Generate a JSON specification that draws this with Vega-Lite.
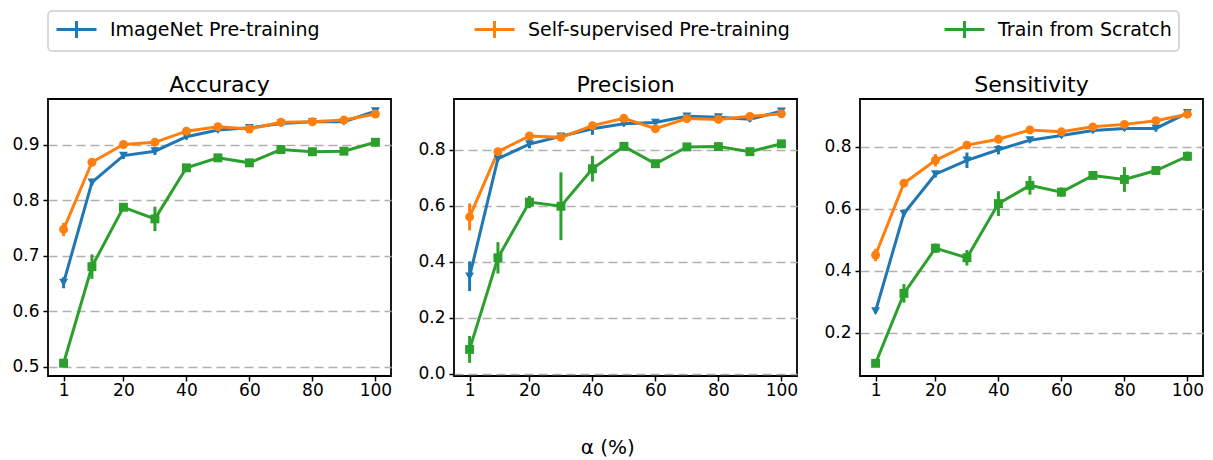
{
  "$schema": "https://vega.github.io/schema/vega-lite/v6.json",
  "padding": {"left": 11, "top": 10, "right": 4, "bottom": 0},
  "background": "white",
  "datasets": {
    "d": [
      {"m":"Accuracy","s":"ImageNet Pre-training","a":1,"v":0.651,"e":0.010},
      {"m":"Accuracy","s":"ImageNet Pre-training","a":10,"v":0.832,"e":0.006},
      {"m":"Accuracy","s":"ImageNet Pre-training","a":20,"v":0.880,"e":0.006},
      {"m":"Accuracy","s":"ImageNet Pre-training","a":30,"v":0.888,"e":0.007},
      {"m":"Accuracy","s":"ImageNet Pre-training","a":40,"v":0.914,"e":0.005},
      {"m":"Accuracy","s":"ImageNet Pre-training","a":50,"v":0.926,"e":0.004},
      {"m":"Accuracy","s":"ImageNet Pre-training","a":60,"v":0.930,"e":0.004},
      {"m":"Accuracy","s":"ImageNet Pre-training","a":70,"v":0.938,"e":0.004},
      {"m":"Accuracy","s":"ImageNet Pre-training","a":80,"v":0.941,"e":0.004},
      {"m":"Accuracy","s":"ImageNet Pre-training","a":90,"v":0.941,"e":0.003},
      {"m":"Accuracy","s":"ImageNet Pre-training","a":100,"v":0.960,"e":0.004},
      {"m":"Accuracy","s":"Self-supervised Pre-training","a":1,"v":0.747,"e":0.012},
      {"m":"Accuracy","s":"Self-supervised Pre-training","a":10,"v":0.868,"e":0.004},
      {"m":"Accuracy","s":"Self-supervised Pre-training","a":20,"v":0.900,"e":0.003},
      {"m":"Accuracy","s":"Self-supervised Pre-training","a":30,"v":0.904,"e":0.003},
      {"m":"Accuracy","s":"Self-supervised Pre-training","a":40,"v":0.924,"e":0.003},
      {"m":"Accuracy","s":"Self-supervised Pre-training","a":50,"v":0.932,"e":0.004},
      {"m":"Accuracy","s":"Self-supervised Pre-training","a":60,"v":0.928,"e":0.004},
      {"m":"Accuracy","s":"Self-supervised Pre-training","a":70,"v":0.940,"e":0.004},
      {"m":"Accuracy","s":"Self-supervised Pre-training","a":80,"v":0.941,"e":0.003},
      {"m":"Accuracy","s":"Self-supervised Pre-training","a":90,"v":0.944,"e":0.004},
      {"m":"Accuracy","s":"Self-supervised Pre-training","a":100,"v":0.955,"e":0.004},
      {"m":"Accuracy","s":"Train from Scratch","a":1,"v":0.506,"e":0.004},
      {"m":"Accuracy","s":"Train from Scratch","a":10,"v":0.680,"e":0.022},
      {"m":"Accuracy","s":"Train from Scratch","a":20,"v":0.787,"e":0.005},
      {"m":"Accuracy","s":"Train from Scratch","a":30,"v":0.766,"e":0.022},
      {"m":"Accuracy","s":"Train from Scratch","a":40,"v":0.858,"e":0.005},
      {"m":"Accuracy","s":"Train from Scratch","a":50,"v":0.876,"e":0.004},
      {"m":"Accuracy","s":"Train from Scratch","a":60,"v":0.867,"e":0.004},
      {"m":"Accuracy","s":"Train from Scratch","a":70,"v":0.891,"e":0.005},
      {"m":"Accuracy","s":"Train from Scratch","a":80,"v":0.887,"e":0.007},
      {"m":"Accuracy","s":"Train from Scratch","a":90,"v":0.888,"e":0.004},
      {"m":"Accuracy","s":"Train from Scratch","a":100,"v":0.904,"e":0.004},
      {"m":"Precision","s":"ImageNet Pre-training","a":1,"v":0.348,"e":0.053},
      {"m":"Precision","s":"ImageNet Pre-training","a":10,"v":0.768,"e":0.008},
      {"m":"Precision","s":"ImageNet Pre-training","a":20,"v":0.820,"e":0.015},
      {"m":"Precision","s":"ImageNet Pre-training","a":30,"v":0.848,"e":0.010},
      {"m":"Precision","s":"ImageNet Pre-training","a":40,"v":0.875,"e":0.022},
      {"m":"Precision","s":"ImageNet Pre-training","a":50,"v":0.893,"e":0.010},
      {"m":"Precision","s":"ImageNet Pre-training","a":60,"v":0.897,"e":0.010},
      {"m":"Precision","s":"ImageNet Pre-training","a":70,"v":0.919,"e":0.008},
      {"m":"Precision","s":"ImageNet Pre-training","a":80,"v":0.916,"e":0.008},
      {"m":"Precision","s":"ImageNet Pre-training","a":90,"v":0.909,"e":0.010},
      {"m":"Precision","s":"ImageNet Pre-training","a":100,"v":0.937,"e":0.010},
      {"m":"Precision","s":"Self-supervised Pre-training","a":1,"v":0.560,"e":0.048},
      {"m":"Precision","s":"Self-supervised Pre-training","a":10,"v":0.793,"e":0.008},
      {"m":"Precision","s":"Self-supervised Pre-training","a":20,"v":0.849,"e":0.010},
      {"m":"Precision","s":"Self-supervised Pre-training","a":30,"v":0.844,"e":0.008},
      {"m":"Precision","s":"Self-supervised Pre-training","a":40,"v":0.886,"e":0.008},
      {"m":"Precision","s":"Self-supervised Pre-training","a":50,"v":0.912,"e":0.006},
      {"m":"Precision","s":"Self-supervised Pre-training","a":60,"v":0.875,"e":0.008},
      {"m":"Precision","s":"Self-supervised Pre-training","a":70,"v":0.911,"e":0.008},
      {"m":"Precision","s":"Self-supervised Pre-training","a":80,"v":0.908,"e":0.006},
      {"m":"Precision","s":"Self-supervised Pre-training","a":90,"v":0.919,"e":0.008},
      {"m":"Precision","s":"Self-supervised Pre-training","a":100,"v":0.928,"e":0.008},
      {"m":"Precision","s":"Train from Scratch","a":1,"v":0.087,"e":0.048},
      {"m":"Precision","s":"Train from Scratch","a":10,"v":0.414,"e":0.056},
      {"m":"Precision","s":"Train from Scratch","a":20,"v":0.613,"e":0.022},
      {"m":"Precision","s":"Train from Scratch","a":30,"v":0.598,"e":0.121},
      {"m":"Precision","s":"Train from Scratch","a":40,"v":0.732,"e":0.046},
      {"m":"Precision","s":"Train from Scratch","a":50,"v":0.812,"e":0.010},
      {"m":"Precision","s":"Train from Scratch","a":60,"v":0.750,"e":0.010},
      {"m":"Precision","s":"Train from Scratch","a":70,"v":0.810,"e":0.010},
      {"m":"Precision","s":"Train from Scratch","a":80,"v":0.811,"e":0.015},
      {"m":"Precision","s":"Train from Scratch","a":90,"v":0.793,"e":0.008},
      {"m":"Precision","s":"Train from Scratch","a":100,"v":0.821,"e":0.010},
      {"m":"Sensitivity","s":"ImageNet Pre-training","a":1,"v":0.270,"e":0.008},
      {"m":"Sensitivity","s":"ImageNet Pre-training","a":10,"v":0.585,"e":0.010},
      {"m":"Sensitivity","s":"ImageNet Pre-training","a":20,"v":0.712,"e":0.010},
      {"m":"Sensitivity","s":"ImageNet Pre-training","a":30,"v":0.757,"e":0.025},
      {"m":"Sensitivity","s":"ImageNet Pre-training","a":40,"v":0.791,"e":0.015},
      {"m":"Sensitivity","s":"ImageNet Pre-training","a":50,"v":0.822,"e":0.008},
      {"m":"Sensitivity","s":"ImageNet Pre-training","a":60,"v":0.837,"e":0.008},
      {"m":"Sensitivity","s":"ImageNet Pre-training","a":70,"v":0.853,"e":0.008},
      {"m":"Sensitivity","s":"ImageNet Pre-training","a":80,"v":0.860,"e":0.008},
      {"m":"Sensitivity","s":"ImageNet Pre-training","a":90,"v":0.860,"e":0.010},
      {"m":"Sensitivity","s":"ImageNet Pre-training","a":100,"v":0.910,"e":0.010},
      {"m":"Sensitivity","s":"Self-supervised Pre-training","a":1,"v":0.451,"e":0.020},
      {"m":"Sensitivity","s":"Self-supervised Pre-training","a":10,"v":0.683,"e":0.008},
      {"m":"Sensitivity","s":"Self-supervised Pre-training","a":20,"v":0.757,"e":0.020},
      {"m":"Sensitivity","s":"Self-supervised Pre-training","a":30,"v":0.806,"e":0.008},
      {"m":"Sensitivity","s":"Self-supervised Pre-training","a":40,"v":0.825,"e":0.010},
      {"m":"Sensitivity","s":"Self-supervised Pre-training","a":50,"v":0.855,"e":0.006},
      {"m":"Sensitivity","s":"Self-supervised Pre-training","a":60,"v":0.849,"e":0.006},
      {"m":"Sensitivity","s":"Self-supervised Pre-training","a":70,"v":0.865,"e":0.006},
      {"m":"Sensitivity","s":"Self-supervised Pre-training","a":80,"v":0.873,"e":0.006},
      {"m":"Sensitivity","s":"Self-supervised Pre-training","a":90,"v":0.885,"e":0.006},
      {"m":"Sensitivity","s":"Self-supervised Pre-training","a":100,"v":0.906,"e":0.006},
      {"m":"Sensitivity","s":"Train from Scratch","a":1,"v":0.101,"e":0.008},
      {"m":"Sensitivity","s":"Train from Scratch","a":10,"v":0.327,"e":0.030},
      {"m":"Sensitivity","s":"Train from Scratch","a":20,"v":0.473,"e":0.015},
      {"m":"Sensitivity","s":"Train from Scratch","a":30,"v":0.442,"e":0.025},
      {"m":"Sensitivity","s":"Train from Scratch","a":40,"v":0.617,"e":0.040},
      {"m":"Sensitivity","s":"Train from Scratch","a":50,"v":0.676,"e":0.030},
      {"m":"Sensitivity","s":"Train from Scratch","a":60,"v":0.654,"e":0.015},
      {"m":"Sensitivity","s":"Train from Scratch","a":70,"v":0.708,"e":0.012},
      {"m":"Sensitivity","s":"Train from Scratch","a":80,"v":0.695,"e":0.040},
      {"m":"Sensitivity","s":"Train from Scratch","a":90,"v":0.724,"e":0.008},
      {"m":"Sensitivity","s":"Train from Scratch","a":100,"v":0.770,"e":0.015}
    ]
  },
  "data": {"name": "d"},
  "title": {"text": "α (%)", "orient": "bottom", "anchor": "middle", "fontSize": 20, "fontWeight": "normal", "offset": 39, "font": "DejaVu Sans", "color": "black"},
  "spacing": 24,
  "hconcat": [
    {
      "width": 343, "height": 277,
      "title": {"text": "Accuracy"},
      "transform": [{"filter": "datum.m === 'Accuracy'"}],
      "encoding": {
        "x": {"field": "a", "type": "quantitative", "scale": {"domain": [-3.95, 104.95], "nice": false, "zero": false}, "axis": {"values": [1, 20, 40, 60, 80, 100], "title": null}},
        "y": {"field": "v", "type": "quantitative", "scale": {"domain": [0.483, 0.982], "nice": false, "zero": false}, "axis": {"values": [0.5, 0.6, 0.7, 0.8, 0.9], "format": ".1f", "title": null}},
        "color": {"field": "s", "type": "nominal", "title": null}
      },
      "layer": [
        {"mark": {"type": "line", "strokeWidth": 3}},
        {"mark": {"type": "errorbar", "thickness": 3}, "encoding": {"yError": {"field": "e"}}},
        {"mark": {"type": "point", "filled": true, "opacity": 1, "size": 80}, "encoding": {"shape": {"field": "s", "type": "nominal", "legend": null}}}
      ]
    },
    {
      "width": 343, "height": 277,
      "title": {"text": "Precision"},
      "transform": [{"filter": "datum.m === 'Precision'"}],
      "encoding": {
        "x": {"field": "a", "type": "quantitative", "scale": {"domain": [-3.95, 104.95], "nice": false, "zero": false}, "axis": {"values": [1, 20, 40, 60, 80, 100], "title": null}},
        "y": {"field": "v", "type": "quantitative", "scale": {"domain": [-0.008, 0.981], "nice": false, "zero": false}, "axis": {"values": [0, 0.2, 0.4, 0.6, 0.8], "format": ".1f", "title": null}},
        "color": {"field": "s", "type": "nominal", "title": null}
      },
      "layer": [
        {"mark": {"type": "line", "strokeWidth": 3}},
        {"mark": {"type": "errorbar", "thickness": 3}, "encoding": {"yError": {"field": "e"}}},
        {"mark": {"type": "point", "filled": true, "opacity": 1, "size": 80}, "encoding": {"shape": {"field": "s", "type": "nominal", "legend": null}}}
      ]
    },
    {
      "width": 343, "height": 277,
      "title": {"text": "Sensitivity"},
      "transform": [{"filter": "datum.m === 'Sensitivity'"}],
      "encoding": {
        "x": {"field": "a", "type": "quantitative", "scale": {"domain": [-3.95, 104.95], "nice": false, "zero": false}, "axis": {"values": [1, 20, 40, 60, 80, 100], "title": null}},
        "y": {"field": "v", "type": "quantitative", "scale": {"domain": [0.06, 0.955], "nice": false, "zero": false}, "axis": {"values": [0.2, 0.4, 0.6, 0.8], "format": ".1f", "title": null}},
        "color": {"field": "s", "type": "nominal", "title": null}
      },
      "layer": [
        {"mark": {"type": "line", "strokeWidth": 3}},
        {"mark": {"type": "errorbar", "thickness": 3}, "encoding": {"yError": {"field": "e"}}},
        {"mark": {"type": "point", "filled": true, "opacity": 1, "size": 80}, "encoding": {"shape": {"field": "s", "type": "nominal", "legend": null}}}
      ]
    }
  ],
  "resolve": {"scale": {"color": "shared", "shape": "shared"}, "legend": {"color": "shared"}},
  "config": {
    "font": "DejaVu Sans",
    "view": {"stroke": "black", "strokeWidth": 1.8},
    "range": {"category": ["#1f77b4", "#ff7f0e", "#2ca02c"], "symbol": ["triangle-down", "circle", "square"]},
    "title": {"font": "DejaVu Sans", "fontSize": 22, "fontWeight": "normal", "color": "black", "offset": 2},
    "axis": {"labelFont": "DejaVu Sans", "labelFontSize": 17, "labelColor": "black", "tickColor": "black", "tickWidth": 1.5, "tickSize": 5, "domain": false},
    "axisX": {"grid": false, "labelPadding": 1},
    "axisY": {"grid": true, "gridDash": [9, 5], "gridColor": "#b0b0b0", "gridWidth": 1.5, "labelPadding": 4, "minExtent": 36, "maxExtent": 36},
    "legend": {
      "orient": "top", "direction": "horizontal", "title": null,
      "labelFont": "DejaVu Sans", "labelFontSize": 19, "labelColor": "black", "labelLimit": 500,
      "symbolType": "M-1,0H3M1,-0.85V0.85", "symbolSize": 400, "symbolStrokeWidth": 3, "symbolFillColor": "transparent",
      "labelOffset": 32, "columnPadding": 148, "padding": 7,
      "strokeColor": "#cccccc", "strokeWidth": 1.5, "cornerRadius": 4, "fillColor": "white", "offset": 22
    }
  }
}
